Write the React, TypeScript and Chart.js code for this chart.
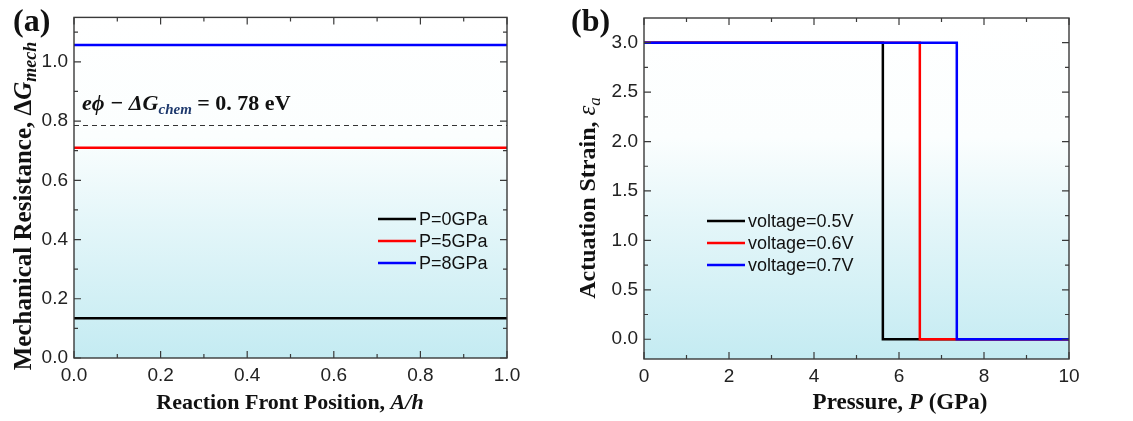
import React, { useEffect, useRef } from 'react';
import { Chart, registerables } from 'chart.js';

Chart.register(...registerables);

// ---------- Panel (a) data ----------
const positionA = [0, 1];
const resistP0 = [0.134, 0.134];
const resistP5 = [0.71, 0.71];
const resistP8 = [1.057, 1.057];
const thresholdLine = [0.785, 0.785];
const legendA = ['P=0GPa', 'P=5GPa', 'P=8GPa'];
const xTicksA = [0, 0.2, 0.4, 0.6, 0.8, 1.0];
const xMinorA = [0.1, 0.3, 0.5, 0.7, 0.9];
const yTicksA = [0, 0.2, 0.4, 0.6, 0.8, 1.0];
const yMinorA = [0.1, 0.3, 0.5, 0.7, 0.9, 1.1];

// ---------- Panel (b) data ----------
const pressureV05 = [0, 5.62, 5.62, 10];
const strainV05 = [3, 3, 0, 0];
const pressureV06 = [0, 6.49, 6.49, 10];
const strainV06 = [3, 3, 0, 0];
const pressureV07 = [0, 7.36, 7.36, 10];
const strainV07 = [3, 3, 0, 0];
const legendB = ['voltage=0.5V', 'voltage=0.6V', 'voltage=0.7V'];
const xTicksB = [0, 2, 4, 6, 8, 10];
const xMinorB = [1, 3, 5, 7, 9];
const yTicksB = [0, 0.5, 1.0, 1.5, 2.0, 2.5, 3.0];
const yMinorB = [0.25, 0.75, 1.25, 1.75, 2.25, 2.75];

const BLACK = '#000000';
const RED = '#ff0000';
const BLUE = '#0000ff';
const SERIF = '"Liberation Serif", "Times New Roman", serif';
const SANS = '"Liberation Sans", Arial, sans-serif';

type Seg = { t: string; f: string; c?: string; dy?: number };

function drawRich(ctx: CanvasRenderingContext2D, segs: Seg[], x: number, y: number, align: 'center' | 'left', rotate = false) {
  ctx.save();
  ctx.translate(x, y);
  if (rotate) ctx.rotate(-Math.PI / 2);
  ctx.textBaseline = 'alphabetic';
  ctx.textAlign = 'left';
  let total = 0;
  for (const s of segs) {
    ctx.font = s.f;
    total += ctx.measureText(s.t).width;
  }
  let cx = align === 'center' ? -total / 2 : 0;
  for (const s of segs) {
    ctx.font = s.f;
    ctx.fillStyle = s.c || '#111111';
    ctx.fillText(s.t, cx, s.dy || 0);
    cx += ctx.measureText(s.t).width;
  }
  ctx.restore();
}

type Deco = {
  xMajor: number[];
  xMinor: number[];
  yMajor: number[];
  yMinor: number[];
  legend: string[];
  legendColors: string[];
  legendX: number;
  legendY: number[];
  xTitle: Seg[];
  xTitlePos: [number, number];
  yTitle: Seg[];
  yTitlePos: [number, number];
  panel: string;
  panelPos: [number, number];
  extra?: (ctx: CanvasRenderingContext2D) => void;
};

function decoPlugin(d: Deco) {
  return {
    id: 'deco',
    beforeDatasetsDraw(chart: any) {
      const { ctx, chartArea: a } = chart;
      const g = ctx.createLinearGradient(0, a.top, 0, a.bottom);
      g.addColorStop(0, '#ffffff');
      g.addColorStop(0.35, '#fbfefe');
      g.addColorStop(0.6, '#e4f6f9');
      g.addColorStop(1, '#c4ebf2');
      ctx.save();
      ctx.fillStyle = g;
      ctx.fillRect(a.left, a.top, a.right - a.left, a.bottom - a.top);
      ctx.restore();
    },
    afterDatasetsDraw(chart: any) {
      const { ctx, chartArea: a, scales } = chart;
      const xs = scales.x;
      const ys = scales.y;
      ctx.save();
      ctx.strokeStyle = '#3a3a3a';
      ctx.lineWidth = 1.4;
      ctx.strokeRect(a.left, a.top, a.right - a.left, a.bottom - a.top);
      const tick = (vals: number[], len: number, horiz: boolean) => {
        for (const v of vals) {
          if (horiz) {
            const px = xs.getPixelForValue(v);
            ctx.beginPath();
            ctx.moveTo(px, a.bottom);
            ctx.lineTo(px, a.bottom - len);
            ctx.moveTo(px, a.top);
            ctx.lineTo(px, a.top + len);
            ctx.stroke();
          } else {
            const py = ys.getPixelForValue(v);
            ctx.beginPath();
            ctx.moveTo(a.left, py);
            ctx.lineTo(a.left + len, py);
            ctx.moveTo(a.right, py);
            ctx.lineTo(a.right - len, py);
            ctx.stroke();
          }
        }
      };
      ctx.lineWidth = 1.2;
      tick(d.xMajor, 7, true);
      tick(d.xMinor, 4, true);
      tick(d.yMajor, 7, false);
      tick(d.yMinor, 4, false);

      // legend
      d.legend.forEach((lab, i) => {
        const y = d.legendY[i];
        ctx.strokeStyle = d.legendColors[i];
        ctx.lineWidth = 2.5;
        ctx.beginPath();
        ctx.moveTo(d.legendX, y);
        ctx.lineTo(d.legendX + 38, y);
        ctx.stroke();
        ctx.fillStyle = '#111111';
        ctx.font = `18px ${SANS}`;
        ctx.textBaseline = 'middle';
        ctx.textAlign = 'left';
        ctx.fillText(lab, d.legendX + 41, y + 1);
      });
      ctx.restore();

      drawRich(ctx, d.xTitle, d.xTitlePos[0], d.xTitlePos[1], 'center');
      drawRich(ctx, d.yTitle, d.yTitlePos[0], d.yTitlePos[1], 'center', true);
      drawRich(ctx, [{ t: d.panel, f: `bold 32px ${SERIF}` }], d.panelPos[0], d.panelPos[1], 'left');
      if (d.extra) d.extra(ctx);
    },
  };
}

function scaleOpts(min: number, max: number, ticks: number[], fmt: (v: number) => string, axis: 'x' | 'y', size: number, pad: number) {
  return {
    type: 'linear' as const,
    min,
    max,
    grid: { display: false, drawTicks: false },
    border: { display: false },
    ticks: {
      font: { family: SANS, size: 19 },
      color: '#222222',
      padding: pad,
      autoSkip: false,
      maxRotation: 0,
      includeBounds: false,
      callback: (v: any) => fmt(Number(v)),
    },
    afterBuildTicks: (s: any) => {
      s.ticks = ticks.map((value) => ({ value }));
    },
    afterFit: (s: any) => {
      if (axis === 'x') s.height = size;
      else s.width = size;
    },
  };
}

function lineDs(label: string, xs: number[], ys: number[], color: string, order: number, dash?: number[], width = 2.5) {
  return {
    label,
    data: xs.map((x, i) => ({ x, y: ys[i] })),
    borderColor: color,
    backgroundColor: color,
    borderWidth: width,
    borderDash: dash || [],
    pointRadius: 0,
    fill: false,
    tension: 0,
    order,
  };
}

export default function App() {
  const refA = useRef<HTMLCanvasElement>(null);
  const refB = useRef<HTMLCanvasElement>(null);

  useEffect(() => {
    const chartA = new Chart(refA.current as HTMLCanvasElement, {
      type: 'line',
      data: {
        datasets: [
          lineDs(legendA[0], positionA, resistP0, BLACK, 1),
          lineDs(legendA[1], positionA, resistP5, RED, 1),
          lineDs(legendA[2], positionA, resistP8, BLUE, 1),
          lineDs('threshold', positionA, thresholdLine, '#333333', 2, [5, 4], 1.2),
        ],
      },
      options: {
        animation: false,
        responsive: false,
        layout: { padding: { left: 0, right: 53, top: 17, bottom: 0 } },
        plugins: { legend: { display: false }, tooltip: { enabled: false } },
        scales: {
          x: scaleOpts(0, 1, xTicksA, (v) => v.toFixed(1), 'x', 63, 6),
          y: scaleOpts(0, 1.15, yTicksA, (v) => v.toFixed(1), 'y', 74, 6),
        },
      } as any,
      plugins: [
        decoPlugin({
          xMajor: xTicksA,
          xMinor: xMinorA,
          yMajor: yTicksA,
          yMinor: yMinorA,
          legend: legendA,
          legendColors: [BLACK, RED, BLUE],
          legendX: 378,
          legendY: [219, 241, 263],
          xTitle: [
            { t: 'Reaction Front Position, ', f: `bold 22px ${SERIF}` },
            { t: 'A/h', f: `italic bold 22px ${SERIF}` },
          ],
          xTitlePos: [290, 409],
          yTitle: [
            { t: 'Mechanical Resistance, Δ', f: `bold 25px ${SERIF}` },
            { t: 'G', f: `italic bold 25px ${SERIF}` },
            { t: 'mech', f: `italic bold 18px ${SERIF}`, dy: 5 },
          ],
          yTitlePos: [31, 206],
          panel: '(a)',
          panelPos: [13, 31],
          extra: (ctx) => {
            drawRich(
              ctx,
              [
                { t: 'eϕ − ΔG', f: `italic bold 22px ${SERIF}` },
                { t: 'chem', f: `italic bold 15px ${SERIF}`, c: '#1f3a6e', dy: 4 },
                { t: ' = 0. 78 eV', f: `bold 22px ${SERIF}` },
              ],
              82,
              110,
              'left'
            );
          },
        }),
      ],
    });

    const chartB = new Chart(refB.current as HTMLCanvasElement, {
      type: 'line',
      data: {
        datasets: [
          lineDs(legendB[0], pressureV05, strainV05, BLACK, 3),
          lineDs(legendB[1], pressureV06, strainV06, RED, 2),
          lineDs(legendB[2], pressureV07, strainV07, BLUE, 1),
        ],
      },
      options: {
        animation: false,
        responsive: false,
        layout: { padding: { left: 0, right: 64, top: 18, bottom: 0 } },
        plugins: { legend: { display: false }, tooltip: { enabled: false } },
        scales: {
          x: scaleOpts(0, 10, xTicksB, (v) => String(Math.round(v)), 'x', 62, 6),
          y: scaleOpts(-0.2, 3.25, yTicksB, (v) => v.toFixed(1), 'y', 84, 6),
        },
      } as any,
      plugins: [
        decoPlugin({
          xMajor: xTicksB,
          xMinor: xMinorB,
          yMajor: yTicksB,
          yMinor: yMinorB,
          legend: legendB,
          legendColors: [BLACK, RED, BLUE],
          legendX: 147,
          legendY: [221, 243, 265],
          xTitle: [
            { t: 'Pressure, ', f: `bold 23px ${SERIF}` },
            { t: 'P', f: `italic bold 23px ${SERIF}` },
            { t: ' (GPa)', f: `bold 23px ${SERIF}` },
          ],
          xTitlePos: [340, 409],
          yTitle: [
            { t: 'Actuation Strain, ', f: `bold 24px ${SERIF}` },
            { t: 'ε', f: `italic 25px ${SERIF}` },
            { t: 'a', f: `italic 17px ${SERIF}`, dy: 5 },
          ],
          yTitlePos: [35, 198],
          panel: '(b)',
          panelPos: [11, 31],
        }),
      ],
    });

    return () => {
      chartA.destroy();
      chartB.destroy();
    };
  }, []);

  return (
    <div style={{ position: 'absolute', left: 0, top: 0, width: 1133, height: 421, background: '#ffffff', overflow: 'hidden' }}>
      <canvas ref={refA} width={560} height={421} style={{ position: 'absolute', left: 0, top: 0, width: 560, height: 421 }} />
      <canvas ref={refB} width={573} height={421} style={{ position: 'absolute', left: 560, top: 0, width: 573, height: 421 }} />
    </div>
  );
}
